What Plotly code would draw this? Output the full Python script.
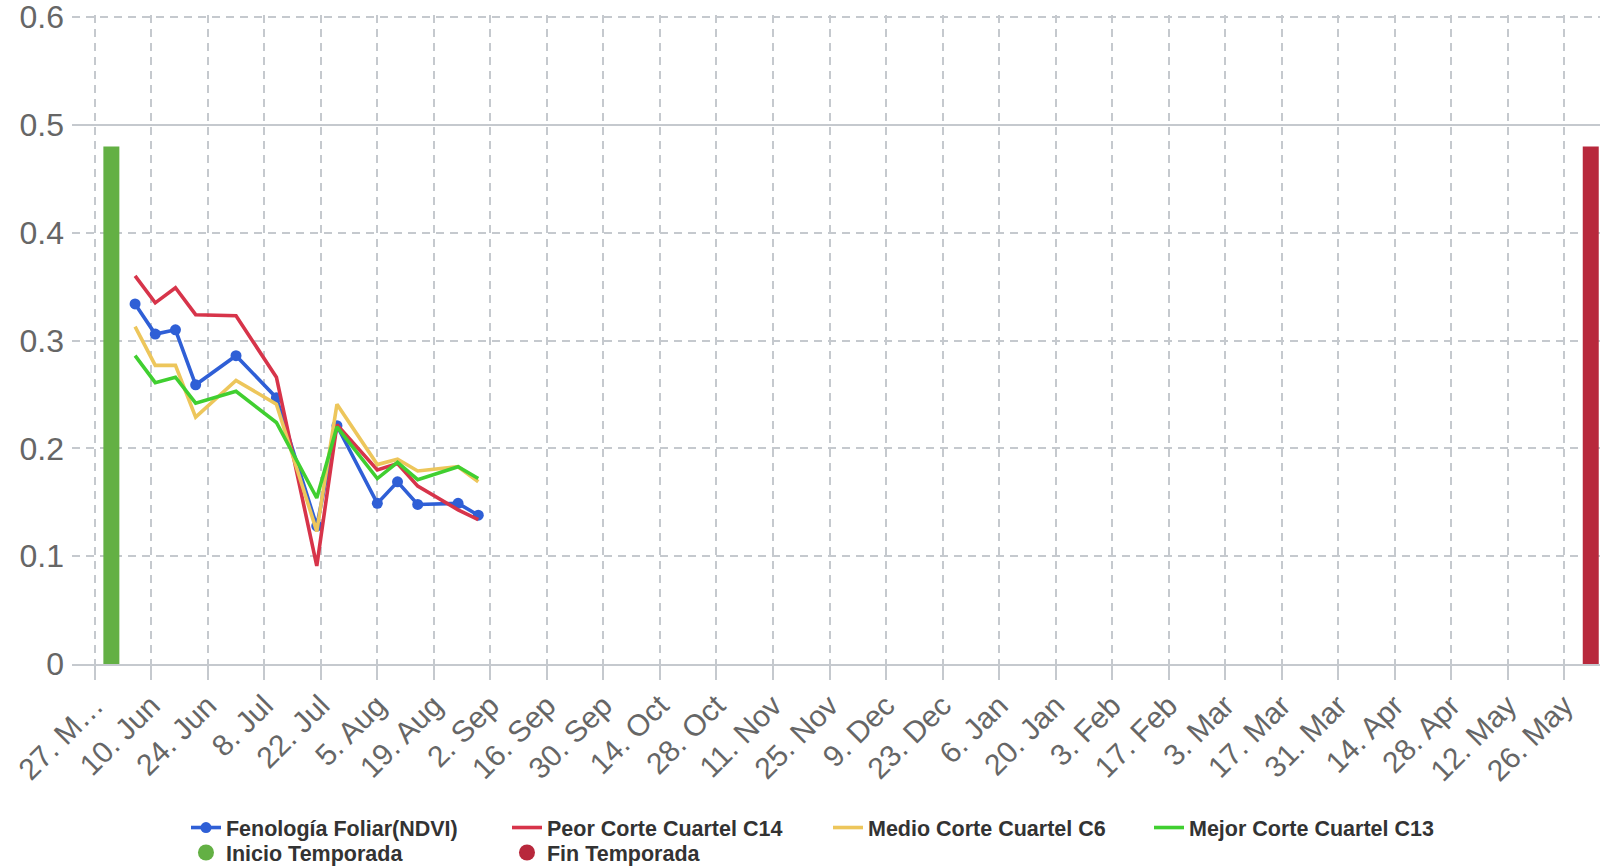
import pandas as pd
import plotly.graph_objects as go

# ---------------- data ----------------
dates = ["2024-06-06", "2024-06-11", "2024-06-16", "2024-06-21", "2024-07-01",
         "2024-07-11", "2024-07-21", "2024-07-26", "2024-08-05", "2024-08-10",
         "2024-08-15", "2024-08-25", "2024-08-30"]
ndvi = [0.334, 0.306, 0.310, 0.259, 0.286, 0.247, 0.128, 0.221, 0.149, 0.169, 0.148, 0.149, 0.138]
peor = [0.360, 0.335, 0.349, 0.324, 0.323, 0.266, 0.091, 0.222, 0.180, 0.186, 0.165, 0.143, 0.134]
medio = [0.313, 0.277, 0.277, 0.229, 0.263, 0.241, 0.123, 0.241, 0.185, 0.190, 0.179, 0.183, 0.169]
mejor = [0.286, 0.261, 0.266, 0.242, 0.253, 0.224, 0.154, 0.220, 0.172, 0.187, 0.171, 0.183, 0.172]

inicio_date = ["2024-05-31 03:00"]
fin_date = ["2025-06-01 13:00"]
season_value = [0.48]

series_names = ["Fenología Foliar(NDVI)", "Peor Corte Cuartel C14",
                "Medio Corte Cuartel C6", "Mejor Corte Cuartel C13"]
season_names = ["Inicio Temporada", "Fin Temporada"]

tick_labels = ["27. M…", "10. Jun", "24. Jun", "8. Jul", "22. Jul", "5. Aug", "19. Aug",
               "2. Sep", "16. Sep", "30. Sep", "14. Oct", "28. Oct", "11. Nov", "25. Nov",
               "9. Dec", "23. Dec", "6. Jan", "20. Jan", "3. Feb", "17. Feb", "3. Mar",
               "17. Mar", "31. Mar", "14. Apr", "28. Apr", "12. May", "26. May"]
tick_dates = pd.date_range("2024-05-27", periods=len(tick_labels), freq="14D")
y_ticks = [0, 0.1, 0.2, 0.3, 0.4, 0.5, 0.6]
y_tick_labels = ["0", "0.1", "0.2", "0.3", "0.4", "0.5", "0.6"]
reference_line = 0.5

# ---------------- style ----------------
GRID = "#c5c9ce"
LABEL = "#666666"
FONT = "Liberation Sans, Arial, sans-serif"
colors = ["#2f5fd6", "#d7344a", "#edc65b", "#40cf30"]
GREEN_BAR = "#63b044"
RED_BAR = "#b8283c"
BAR_WIDTH_MS = 3.96 * 86400000

fig = go.Figure()

fig.add_trace(go.Bar(x=inicio_date, y=season_value, width=BAR_WIDTH_MS,
                     marker=dict(color=GREEN_BAR, line=dict(width=0)),
                     showlegend=False, name=season_names[0]))
fig.add_trace(go.Bar(x=fin_date, y=season_value, width=BAR_WIDTH_MS,
                     marker=dict(color=RED_BAR, line=dict(width=0)),
                     showlegend=False, name=season_names[1]))

all_series = [ndvi, peor, medio, mejor]
for i, (name, vals) in enumerate(zip(series_names, all_series)):
    fig.add_trace(go.Scatter(
        x=dates, y=vals, name=name,
        mode="lines+markers" if i == 0 else "lines",
        line=dict(color=colors[i], width=3.6),
        marker=dict(size=11, color=colors[i]),
        legend="legend",
    ))

# legend-only circle entries for the season columns
for name, col in zip(season_names, [GREEN_BAR, RED_BAR]):
    fig.add_trace(go.Scatter(x=[None], y=[None], mode="markers", name=name,
                             marker=dict(size=18, color=col, symbol="circle"),
                             legend="legend2"))

fig.add_hline(y=reference_line, line=dict(color=GRID, width=2), layer="below")

legend_common = dict(
    orientation="h", xanchor="left", yanchor="middle",
    x=0.0746, entrywidth=276, entrywidthmode="pixels",
    font=dict(family=FONT, size=21.5, color="#333333", weight="bold"),
    bgcolor="rgba(0,0,0,0)", itemwidth=30, traceorder="normal",
)

fig.update_layout(
    template="none",
    width=1602, height=867,
    paper_bgcolor="white", plot_bgcolor="white",
    margin=dict(l=72, r=2, t=15, b=203, autoexpand=False),
    barmode="overlay",
    showlegend=True,
    legend=dict(y=-0.252, **legend_common),
    legend2=dict(y=-0.2905, **legend_common),
    xaxis=dict(
        type="date",
        range=["2024-05-21 09:00", "2025-06-03 20:00"],
        tickvals=tick_dates, ticktext=tick_labels,
        tickangle=-45,
        tickfont=dict(family=FONT, size=30, color=LABEL),
        showgrid=True, gridcolor=GRID, gridwidth=1.5, griddash="8px,6px",
        showline=True, linecolor=GRID, linewidth=2,
        ticks="outside", ticklen=14, tickwidth=1.5, tickcolor=GRID,
        ticklabelstandoff=-4,
        zeroline=False, automargin=False,
    ),
    yaxis=dict(
        range=[0, 0.602],
        tickvals=y_ticks, ticktext=y_tick_labels,
        tickfont=dict(family=FONT, size=32, color=LABEL),
        showgrid=True, gridcolor=GRID, gridwidth=1.5, griddash="8px,6px",
        showline=False, zeroline=False, ticks="", ticklabelstandoff=7,
        ticklabeloverflow="allow", automargin=False,
    ),
)

# remove the page's default 8px body margin so the figure sits at the window origin
fig.write_html("out.html",
               config={"displayModeBar": False},
               post_script="document.body.style.margin='0';document.body.style.overflow='hidden';")
